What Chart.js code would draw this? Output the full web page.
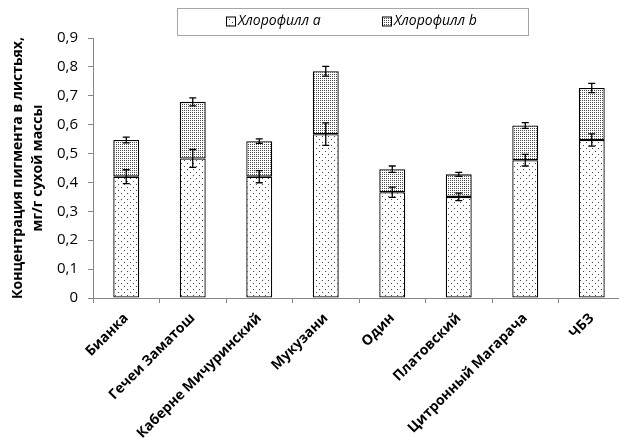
<!DOCTYPE html>
<html>
<head>
<meta charset="utf-8">
<script src="https://cdn.jsdelivr.net/npm/chart.js@4.4.1/dist/chart.umd.min.js"></script>
<style>
html,body{margin:0;padding:0;background:#fff;overflow:hidden;}
#wrap{position:relative;width:626px;height:439px;}
</style>
</head>
<body>
<div id="wrap"><canvas id="c"></canvas></div>
<script>
// ---- data ----
const categories = ['Бианка','Гечеи Заматош','Каберне Мичуринский','Мукузани','Один','Платовский','Цитронный Магарача','ЧБЗ'];
const seriesNames = ['Хлорофилл a','Хлорофилл b'];
const chlA = [0.420,0.483,0.420,0.567,0.366,0.350,0.477,0.547];
const chlB = [0.127,0.196,0.123,0.218,0.080,0.078,0.120,0.180];
const errA = [0.024,0.031,0.021,0.039,0.018,0.013,0.020,0.021];
const errTotal = [0.010,0.014,0.008,0.017,0.011,0.007,0.010,0.016];
const yTickLabels = ['0','0,1','0,2','0,3','0,4','0,5','0,6','0,7','0,8','0,9'];

const FONT = "'Open Sans', 'Liberation Sans', sans-serif";

function makePattern(size, bg, fg, dots){
  const t = document.createElement('canvas');
  t.width = size; t.height = size;
  const g = t.getContext('2d');
  g.fillStyle = bg; g.fillRect(0,0,size,size);
  g.fillStyle = fg;
  dots.forEach(d => g.fillRect(d[0], d[1], 1, 1));
  return document.getElementById('c').getContext('2d').createPattern(t, 'repeat');
}
const patA = makePattern(6, '#ffffff', '#444444', [[1,1],[4,4]]);
const patB = makePattern(2, '#ffffff', '#4a4a4a', [[0,0]]);

const errorBars = {
  id: 'errorBars',
  afterDatasetsDraw(chart){
    const ctx = chart.ctx, y = chart.scales.y;
    const m0 = chart.getDatasetMeta(0), m1 = chart.getDatasetMeta(1);
    ctx.save();
    ctx.strokeStyle = '#000'; ctx.lineWidth = 1.3;
    const cap = 3.5;
    function bar(x, v, e){
      const y1 = y.getPixelForValue(v - e), y2 = y.getPixelForValue(v + e);
      ctx.beginPath();
      ctx.moveTo(x, y1); ctx.lineTo(x, y2);
      ctx.moveTo(x - cap, y1); ctx.lineTo(x + cap, y1);
      ctx.moveTo(x - cap, y2); ctx.lineTo(x + cap, y2);
      ctx.stroke();
    }
    categories.forEach((c, i) => {
      bar(m0.data[i].x, chlA[i], errA[i]);
      bar(m1.data[i].x, chlA[i] + chlB[i], errTotal[i]);
    });
    ctx.restore();
  }
};

const customLegend = {
  id: 'customLegend',
  afterDraw(chart){
    const ctx = chart.ctx;
    ctx.save();
    ctx.strokeStyle = '#a6a6a6'; ctx.lineWidth = 1;
    ctx.strokeRect(177.5, 8.5, 351, 27);
    ctx.font = "italic 14px " + FONT;
    ctx.textBaseline = 'middle';
    ctx.fillStyle = '#000';
    const xs = [226, 382];
    chart.data.datasets.forEach((ds, i) => {
      const x = xs[i], yc = 21.5;
      ctx.fillStyle = ds.backgroundColor;
      ctx.fillRect(x, yc - 4.5, 9, 9);
      ctx.strokeStyle = '#000'; ctx.lineWidth = 1;
      ctx.strokeRect(x + 0.5, yc - 4.5, 9, 9);
      ctx.fillStyle = '#000';
      ctx.fillText(ds.label, x + 12, yc);
    });
    ctx.restore();
  }
};

new Chart(document.getElementById('c'), {
  type: 'bar',
  data: {
    labels: categories,
    datasets: [
      { label: seriesNames[0], data: chlA, backgroundColor: patA, borderColor: '#000', borderWidth: 1.3, borderSkipped: false },
      { label: seriesNames[1], data: chlB, backgroundColor: patB, borderColor: '#000', borderWidth: 1.3, borderSkipped: false }
    ]
  },
  options: {
    responsive: true,
    maintainAspectRatio: false,
    animation: false,
    barPercentage: 0.39,
    categoryPercentage: 1,
    layout: { padding: { top: 38, right: 1, left: 0, bottom: 0 } },
    plugins: { legend: { display: false }, tooltip: { enabled: false } },
    scales: {
      x: {
        stacked: true,
        grid: { drawOnChartArea: false, drawTicks: true, tickLength: 5, color: '#868686' },
        border: { color: '#868686', width: 1 },
        ticks: { color: '#000', font: { family: FONT, size: 14, weight: 'bold' }, minRotation: 45, maxRotation: 45, padding: 7 },
        afterFit(s){ s.height = 141; }
      },
      y: {
        stacked: true,
        min: 0, max: 0.9,
        grid: { drawOnChartArea: false, drawTicks: true, tickLength: 5, color: '#868686' },
        border: { color: '#868686', width: 1 },
        ticks: { stepSize: 0.1, color: '#000', font: { family: FONT, size: 15 }, padding: 10,
                 callback: (v, i) => yTickLabels[i] },
        title: { display: true, text: ['Концентрация пигмента в листьях,', 'мг/г сухой массы'], color: '#000',
                 font: { family: FONT, size: 14, weight: 'bold', lineHeight: 1.45 }, padding: { top: 8, bottom: 0 } },
        afterFit(s){ s.width = 93; }
      }
    }
  },
  plugins: [errorBars, customLegend]
});
</script>
</body>
</html>
